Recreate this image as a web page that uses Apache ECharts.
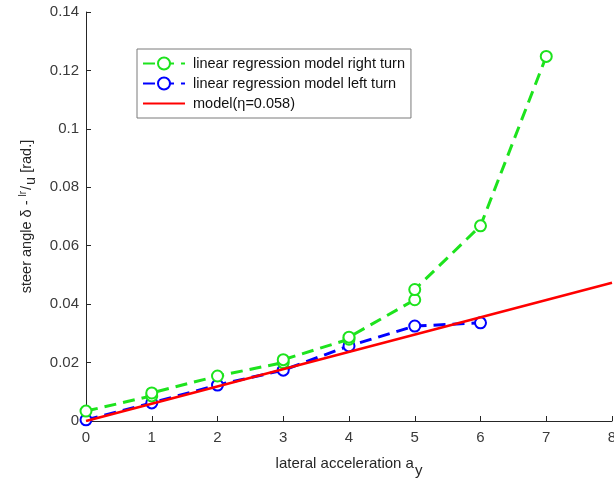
<!DOCTYPE html>
<html>
<head>
<meta charset="utf-8">
<script src="https://cdn.jsdelivr.net/npm/echarts@6/dist/echarts.min.js"></script>
<style>
  html, body { margin: 0; padding: 0; background: #fff; }
  #chart { width: 614px; height: 482px; }
</style>
</head>
<body>
<div id="chart"></div>
<script>
// Lateral acceleration samples (x) and measured steer angle residuals (y)
const rightTurnX = [0, 1, 1, 2, 3, 3, 4, 4, 5, 5, 6, 7];
const rightTurnY = [0.0034, 0.0086, 0.0096, 0.0154, 0.0200, 0.0210, 0.0280, 0.0287, 0.0415, 0.0450, 0.0668, 0.1248];
const leftTurnX = [0, 1, 2, 3, 4, 5, 6];
const leftTurnY = [0.0004, 0.0062, 0.0123, 0.0174, 0.0257, 0.0325, 0.0336];
const modelX = [0, 8];
const modelY = [0, 0.0473];

const xTicks = [0, 1, 2, 3, 4, 5, 6, 7, 8];
const yTicks = [0, 0.02, 0.04, 0.06, 0.08, 0.1, 0.12, 0.14];

const seriesNames = [
  'linear regression model right turn',
  'linear regression model left turn',
  'model(\u03b7=0.058)'
];

const pair = (xs, ys) => xs.map((x, i) => [x, ys[i]]);

const GREEN = '#1de31d';
const BLUE = '#0000ff';
const RED = '#ff0000';
const AXIS = '#262626';
const FONT = '"Liberation Sans", Arial, sans-serif';

const chart = echarts.init(document.getElementById('chart'), null, { renderer: 'canvas' });

chart.setOption({
  animation: false,
  backgroundColor: '#fff',
  textStyle: { fontFamily: FONT },
  grid: { left: 86, right: 2, top: 12, bottom: 61, containLabel: false, outerBoundsMode: 'none' },
  legend: {
    orient: 'vertical',
    left: 137,
    top: 49,
    padding: [7, 6, 7, 5],
    itemGap: 5,
    itemWidth: 42,
    itemHeight: 15,
    backgroundColor: '#fff',
    borderColor: '#7a7a7a',
    borderWidth: 1,
    textStyle: { fontFamily: FONT, fontSize: 14.5, color: '#111', padding: [0, 0, 0, 3] },
    data: [
      { name: seriesNames[0] },
      { name: seriesNames[1] },
      { name: seriesNames[2], itemStyle: { opacity: 0 } }
    ]
  },
  xAxis: {
    type: 'value',
    min: 0,
    max: 8,
    interval: 1,
    name: 'lateral acceleration a{sub|y}',
    nameLocation: 'middle',
    nameGap: 29,
    nameTextStyle: {
      fontFamily: FONT, fontSize: 15, color: AXIS,
      rich: {
        sub: { fontFamily: FONT, fontSize: 15, color: AXIS, padding: [13, 0, 0, 1] }
      }
    },
    axisLine: { show: true, lineStyle: { color: AXIS, width: 1 } },
    axisTick: { show: true, inside: true, length: 5, lineStyle: { color: AXIS } },
    axisLabel: {
      fontFamily: FONT, fontSize: 15, color: '#3a3a3a', margin: 9,
      formatter: v => (xTicks.includes(v) ? String(v) : '')
    },
    splitLine: { show: false }
  },
  yAxis: {
    type: 'value',
    min: 0,
    max: 0.14,
    interval: 0.02,
    name: 'steer angle \u03b4 - {sup|lr}{sl|/}{sub|u} [rad.]',
    nameLocation: 'middle',
    nameGap: 40,
    nameRotate: 90,
    nameTextStyle: {
      fontFamily: FONT, fontSize: 14.5, color: AXIS,
      rich: {
        sup: { fontFamily: FONT, fontSize: 10, color: AXIS, padding: [0, 0, 8, 0] },
        sl: { fontFamily: FONT, fontSize: 14.5, color: AXIS, padding: [0, 1, 0, 1] },
        sub: { fontFamily: FONT, fontSize: 14.5, color: AXIS, padding: [9, 0, 0, 0] }
      }
    },
    axisLine: { show: true, lineStyle: { color: AXIS, width: 1 } },
    axisTick: { show: true, inside: true, length: 5, lineStyle: { color: AXIS } },
    axisLabel: {
      fontFamily: FONT, fontSize: 15, color: '#3a3a3a', margin: 7,
      formatter: v => {
        const t = yTicks.find(k => Math.abs(k - v) < 1e-9);
        return t === undefined ? '' : String(+t.toFixed(2));
      }
    },
    splitLine: { show: false }
  },
  series: [
    {
      name: seriesNames[0],
      type: 'line',
      data: pair(rightTurnX, rightTurnY),
      symbol: 'emptyCircle',
      symbolSize: 11,
      z: 3,
      itemStyle: { color: GREEN, borderWidth: 2 },
      lineStyle: { color: GREEN, width: 3, type: [12, 7] }
    },
    {
      name: seriesNames[1],
      type: 'line',
      data: pair(leftTurnX, leftTurnY),
      symbol: 'emptyCircle',
      symbolSize: 11,
      z: 2,
      itemStyle: { color: BLUE, borderWidth: 2 },
      lineStyle: { color: BLUE, width: 3, type: [12, 7] }
    },
    {
      name: seriesNames[2],
      type: 'line',
      data: pair(modelX, modelY),
      symbol: 'none',
      showSymbol: false,
      z: 4,
      itemStyle: { color: RED },
      lineStyle: { color: RED, width: 2.5 }
    }
  ]
});
</script>
</body>
</html>
